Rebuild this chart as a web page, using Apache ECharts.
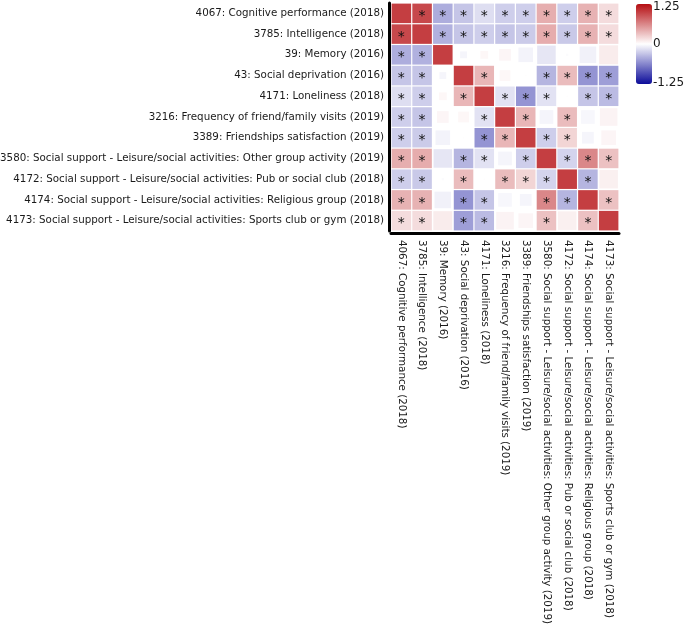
<!DOCTYPE html>
<html>
<head>
<meta charset="utf-8">
<script src="https://cdn.jsdelivr.net/npm/echarts@6/dist/echarts.min.js"></script>
<style>
html,body{margin:0;padding:0;background:#fff;}
#chart{width:685px;height:624px;}
</style>
</head>
<body>
<div id="chart"></div>
<script>
var categories = [
  "4067: Cognitive performance (2018)",
  "3785: Intelligence (2018)",
  "39: Memory (2016)",
  "43: Social deprivation (2016)",
  "4171: Loneliness (2018)",
  "3216: Frequency of friend/family visits (2019)",
  "3389: Friendships satisfaction (2019)",
  "3580: Social support - Leisure/social activities: Other group activity (2019)",
  "4172: Social support - Leisure/social activities: Pub or social club (2018)",
  "4174: Social support - Leisure/social activities: Religious group (2018)",
  "4173: Social support - Leisure/social activities: Sports club or gym (2018)"
];

// correlation values (symmetric matrix, row = y category, column = x category)
var corr = [
  [1.00, 0.95,-0.42,-0.30,-0.17,-0.25,-0.25, 0.42,-0.25, 0.40, 0.18],
  [0.95, 1.00,-0.40,-0.30,-0.25,-0.30,-0.27, 0.43,-0.28, 0.40, 0.18],
  [-0.42,-0.40, 1.00,-0.05, 0.04, 0.05,-0.06,-0.13,-0.02,-0.07, 0.10],
  [-0.30,-0.30,-0.05, 1.00, 0.38, 0.04, 0.01,-0.38, 0.35,-0.55,-0.50],
  [-0.17,-0.25, 0.04, 0.38, 1.00,-0.15,-0.55,-0.15, 0.01,-0.30,-0.35],
  [-0.25,-0.30, 0.05, 0.04,-0.15, 1.00, 0.38,-0.05, 0.35,-0.04, 0.06],
  [-0.25,-0.27,-0.06, 0.01,-0.55, 0.38, 1.00,-0.25, 0.22,-0.05, 0.05],
  [0.42, 0.43,-0.13,-0.38,-0.15,-0.05,-0.25, 1.00,-0.22, 0.62, 0.32],
  [-0.25,-0.28,-0.02, 0.35, 0.01, 0.35, 0.22,-0.22, 1.00,-0.38, 0.08],
  [0.40, 0.40,-0.07,-0.55,-0.30,-0.04,-0.05, 0.62,-0.38, 1.00, 0.32],
  [0.18, 0.18, 0.10,-0.50,-0.35, 0.06, 0.05, 0.32, 0.08, 0.32, 1.00]
];

// relative square size (fraction of a cell)
var cellSize = [
  [1,1,1,1,1,1,1,1,1,1,1],
  [1,1,1,1,1,1,1,1,1,1,1],
  [1,1,1,0.35,0.4,0.6,0.75,0.95,0.12,0.85,0.97],
  [1,1,0.35,1,1,0.55,0.08,1,1,1,1],
  [1,1,0.4,1,1,1,1,1,0.08,1,1],
  [1,1,0.6,0.55,1,1,1,0.7,1,0.7,0.9],
  [1,1,0.75,0.08,1,1,1,1,1,0.6,0.75],
  [1,1,0.95,1,1,0.7,1,1,1,1,1],
  [1,1,0.12,1,0.08,1,1,1,1,1,0.95],
  [1,1,0.85,1,1,0.7,0.6,1,1,1,1],
  [1,1,0.97,1,1,0.9,0.75,1,0.95,1,1]
];

// significance flags (1 = asterisk)
var signif = [
  [0,1,1,1,1,1,1,1,1,1,1],
  [1,0,1,1,1,1,1,1,1,1,1],
  [1,1,0,0,0,0,0,0,0,0,0],
  [1,1,0,0,1,0,0,1,1,1,1],
  [1,1,0,1,0,1,1,1,0,1,1],
  [1,1,0,0,1,0,1,0,1,0,0],
  [1,1,0,0,1,1,0,1,1,0,0],
  [1,1,0,1,1,0,1,0,1,1,1],
  [1,1,0,1,0,1,1,1,0,1,0],
  [1,1,0,1,1,0,0,1,1,0,1],
  [1,1,0,1,1,0,0,1,0,1,0]
];

var colorTicks = ["1.25", "0", "-1.25"];

var data = [];
for (var r = 0; r < categories.length; r++) {
  for (var c = 0; c < categories.length; c++) {
    data.push([c, r, corr[r][c], cellSize[r][c], signif[r][c]]);
  }
}

var gridLeft = 391, gridTop = 3, gridW = 228, gridH = 228;
var cell = gridW / categories.length;
var labelFont = 10.3;

var chart = echarts.init(document.getElementById('chart'));
chart.setOption({
  animation: false,
  textStyle: {fontFamily: 'DejaVu Sans'},
  grid: {left: gridLeft, top: gridTop, width: gridW, height: gridH, containLabel: false, outerBoundsMode: 'none'},
  xAxis: {
    type: 'category', data: categories, position: 'bottom', offset: 2,
    axisLine: {lineStyle: {color: '#000', width: 3}},
    axisTick: {show: false}, splitLine: {show: false},
    axisLabel: {rotate: -90, fontSize: labelFont, color: '#1a1a1a', margin: 7, interval: 0, fontFamily: 'DejaVu Sans'}
  },
  yAxis: {
    type: 'category', data: categories, inverse: true, offset: 2,
    axisLine: {lineStyle: {color: '#000', width: 3}},
    axisTick: {show: false}, splitLine: {show: false},
    axisLabel: {fontSize: labelFont, color: '#1a1a1a', margin: 5, interval: 0, fontFamily: 'DejaVu Sans'}
  },
  visualMap: {
    type: 'continuous', min: -1.25, max: 1.25, dimension: 2, seriesIndex: 0,
    calculable: false, hoverLink: false, orient: 'vertical',
    left: 636, top: 4, itemWidth: 16, itemHeight: 80, padding: 0,
    inRange: {color: ['#0c0c9a', '#ffffff', '#b50e12']}
  },
  graphic: [
    {type: 'text', left: 653, top: 1, style: {text: colorTicks[0], fontSize: 12, fill: '#1a1a1a', fontFamily: 'DejaVu Sans'}},
    {type: 'text', left: 653, top: 38, style: {text: colorTicks[1], fontSize: 12, fill: '#1a1a1a', fontFamily: 'DejaVu Sans'}},
    {type: 'text', left: 653, top: 77, style: {text: colorTicks[2], fontSize: 12, fill: '#1a1a1a', fontFamily: 'DejaVu Sans'}}
  ],
  series: [{
    type: 'scatter',
    symbol: 'rect',
    data: data,
    symbolSize: function (v) { return Math.max(0.5, (cell - 1.2) * v[3]); },
    label: {
      show: true, position: 'inside',
      formatter: function (p) { return p.value[4] ? '*' : ''; },
      fontSize: 14, color: '#111', offset: [0, 3], fontFamily: 'DejaVu Sans'
    },
    itemStyle: {opacity: 1}
  }]
});
</script>
</body>
</html>
